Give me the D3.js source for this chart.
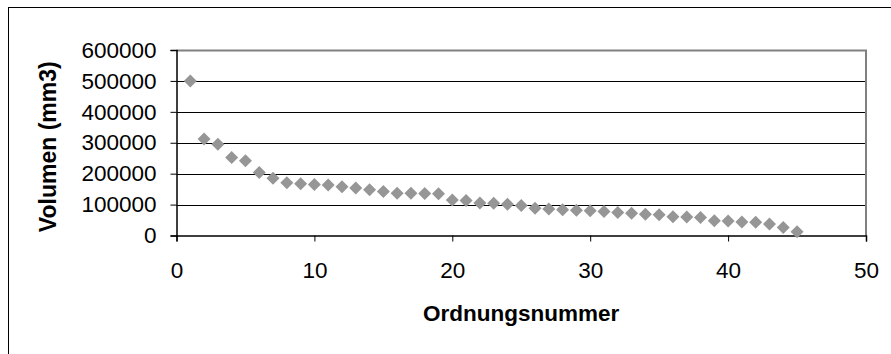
<!DOCTYPE html>
<html>
<head>
<meta charset="utf-8">
<script src="https://cdn.jsdelivr.net/npm/d3@7"></script>
<style>
  html, body { margin: 0; padding: 0; background: #fff; }
  svg { display: block; }
  text { font-family: "Liberation Sans", Arial, sans-serif; fill: #000; }
</style>
</head>
<body>
<svg id="chart" width="891" height="354"></svg>
<script>
// ---- data ----
const xValues = [1,2,3,4,5,6,7,8,9,10,11,12,13,14,15,16,17,18,19,20,21,22,23,24,25,26,27,28,29,30,31,32,33,34,35,36,37,38,39,40,41,42,43,44,45];
const volumen = [500000,312000,295000,252000,242000,204000,185000,171000,167000,165000,163000,158000,154000,148000,142000,137000,137000,136000,135000,115000,113000,105000,104000,101000,97000,88500,86000,83000,82000,80000,77500,74000,72000,69000,67000,61000,60000,58000,47500,46500,44000,43000,37000,26000,12000];
const xTicks = [0,10,20,30,40,50];
const yTicks = [0,100000,200000,300000,400000,500000,600000];
const xTitle = "Ordnungsnummer";
const yTitle = "Volumen (mm3)";

// ---- layout ----
const svg = d3.select("#chart");
const plot = {left: 176.5, top: 50, right: 866, bottom: 235.5};
const x = d3.scaleLinear().domain([0, 50]).range([plot.left, plot.right]);
const y = d3.scaleLinear().domain([0, 600000]).range([plot.bottom, plot.top]);
const fontSize = 22.5;

// outer chart border (right/bottom fall outside the picture)
svg.append("rect")
  .attr("x", 8.5).attr("y", 7.5)
  .attr("width", 900).attr("height", 400)
  .attr("fill", "none").attr("stroke", "#000").attr("stroke-width", 1);

// gridlines
svg.append("g").selectAll("line")
  .data(yTicks.filter(d => d > 0 && d < 600000))
  .join("line")
  .attr("x1", plot.left).attr("x2", plot.right)
  .attr("y1", d => Math.round(y(d)) + 0.5).attr("y2", d => Math.round(y(d)) + 0.5)
  .attr("stroke", "#000").attr("stroke-width", 1);

// plot area border top/right (grey)
svg.append("path")
  .attr("d", `M${plot.left},${plot.top + 0.5}H${plot.right}V${plot.bottom}`)
  .attr("fill", "none").attr("stroke", "#808080").attr("stroke-width", 2);

// y axis
const yAxis = d3.axisLeft(y).tickValues(yTicks).tickSize(6).tickPadding(14).tickFormat(d3.format("d"));
const gy = svg.append("g").attr("transform", `translate(${plot.left},0)`).call(yAxis);
gy.select(".domain").attr("stroke", "#000").attr("stroke-width", 1.5);
gy.selectAll(".tick line").attr("stroke", "#000");
gy.selectAll(".tick text").attr("font-size", fontSize).attr("font-family", "Liberation Sans, Arial, sans-serif").attr("fill", "#000");

// x axis
const xAxis = d3.axisBottom(x).tickValues(xTicks).tickSize(6).tickPadding(21).tickFormat(d3.format("d"));
const gx = svg.append("g").attr("transform", `translate(0,${plot.bottom})`).call(xAxis);
gx.select(".domain").attr("stroke", "#000").attr("stroke-width", 1.5);
gx.selectAll(".tick line").attr("stroke", "#000");
gx.selectAll(".tick text").attr("font-size", fontSize).attr("font-family", "Liberation Sans, Arial, sans-serif").attr("fill", "#000");

// markers
const diamond = "M0,-6.5L6.5,0L0,6.5L-6.5,0Z";
svg.append("g").selectAll("path")
  .data(xValues.map((d, i) => [d, volumen[i]]))
  .join("path")
  .attr("d", diamond)
  .attr("transform", d => `translate(${x(d[0])},${y(d[1])})`)
  .attr("fill", "#969696");

// axis titles
svg.append("text")
  .attr("x", (plot.left + plot.right) / 2).attr("y", 321)
  .attr("text-anchor", "middle")
  .attr("font-size", fontSize).attr("font-weight", "bold")
  .text(xTitle);

svg.append("text")
  .attr("transform", `translate(56,${(plot.top + plot.bottom) / 2 + 4}) rotate(-90)`)
  .attr("text-anchor", "middle")
  .attr("font-size", 23).attr("font-weight", "bold")
  .text(yTitle);
</script>
</body>
</html>
